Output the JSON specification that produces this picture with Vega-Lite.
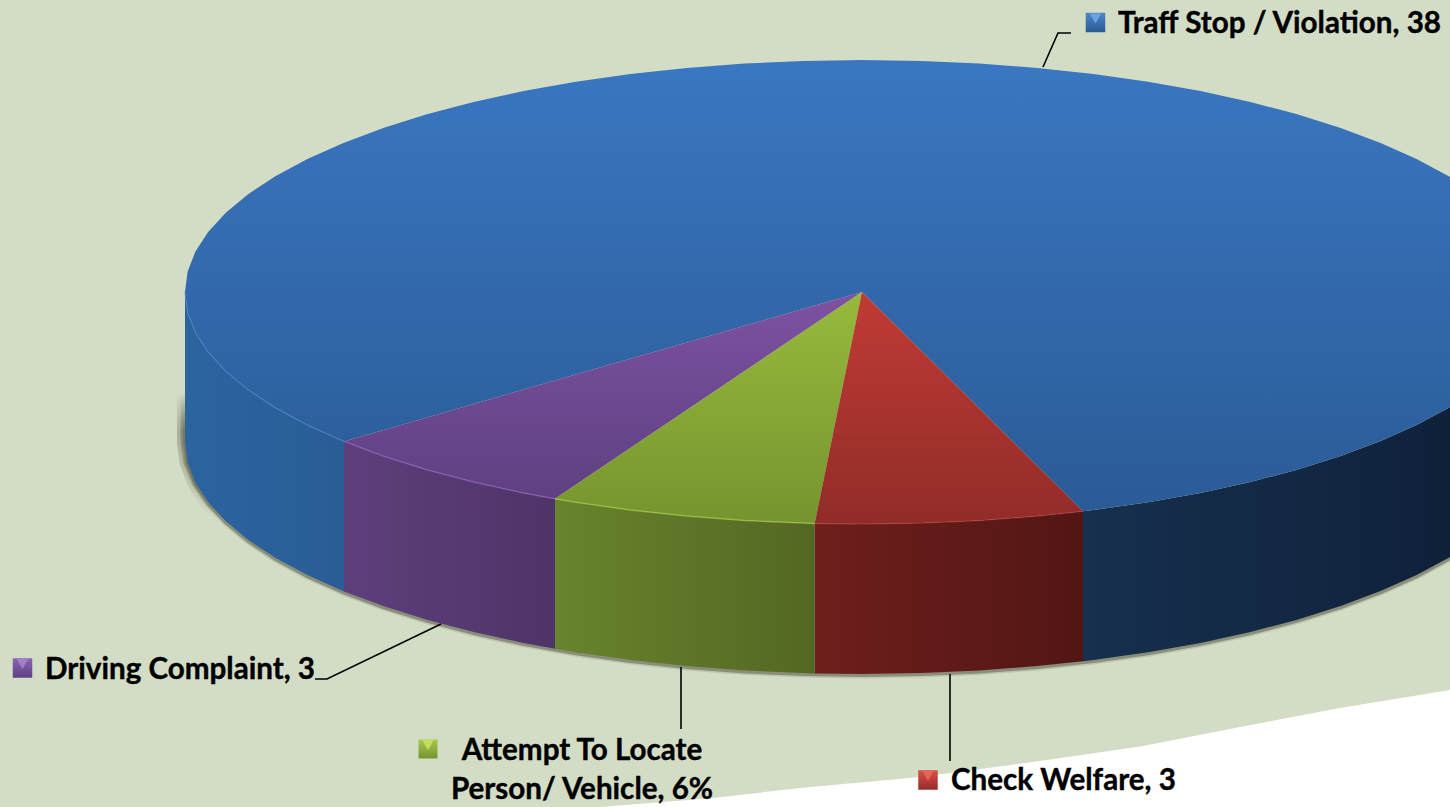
{
"$schema":"https://vega.github.io/schema/vega-lite/v6.json",
"width":1450,"height":807,"autosize":{"type":"fit","contains":"padding"},"padding":0,
"background":"#d3dcc5",
"config":{"view":{"stroke":null}},
"datasets":{
"whiteCorner":[{"x":1450,"y":690},{"x":1340,"y":708},{"x":1240,"y":727},{"x":1143,"y":746},{"x":1040,"y":761},{"x":920,"y":777},{"x":800,"y":788},{"x":713,"y":798},{"x":600,"y":807},{"x":1450,"y":807}],
"shadowLeft":[{"x":185,"y":392},{"x":185,"y":442},{"x":187.6,"y":462.2},{"x":195.3,"y":482.3},{"x":208.1,"y":502},{"x":225.8,"y":521.3}],
"shadow":[{"x":185,"y":395},{"x":185,"y":442},{"x":187.6,"y":462.2},{"x":195.3,"y":482.3},{"x":208.1,"y":502},{"x":225.8,"y":521.3},{"x":248.4,"y":540},{"x":275.7,"y":558},{"x":307.4,"y":575.1},{"x":344,"y":591.4},{"x":383.3,"y":606},{"x":426.8,"y":619.7},{"x":473.7,"y":632.1},{"x":523.5,"y":642.9},{"x":575.9,"y":652.3},{"x":630.5,"y":660},{"x":686.8,"y":666.1},{"x":744.5,"y":670.5},{"x":803,"y":673.1},{"x":862,"y":674},{"x":921,"y":673.1},{"x":979.5,"y":670.5},{"x":1037.2,"y":666.1},{"x":1093.5,"y":660},{"x":1148.1,"y":652.3},{"x":1200.5,"y":642.9},{"x":1250.3,"y":632.1},{"x":1297.2,"y":619.7},{"x":1340.7,"y":606},{"x":1380.6,"y":591.1},{"x":1416.6,"y":575.1},{"x":1448.3,"y":558},{"x":1475.6,"y":540}],
"wallBlueLeft":[{"x":344,"y":441.4,"edge":"top"},{"x":307.4,"y":425.1,"edge":"top"},{"x":275.7,"y":408,"edge":"top"},{"x":248.4,"y":390,"edge":"top"},{"x":225.8,"y":371.3,"edge":"top"},{"x":208.1,"y":352,"edge":"top"},{"x":195.3,"y":332.3,"edge":"top"},{"x":187.6,"y":312.2,"edge":"top"},{"x":185,"y":292,"edge":"top"},{"x":185,"y":442,"edge":"bottom"},{"x":187.6,"y":462.2,"edge":"bottom"},{"x":195.3,"y":482.3,"edge":"bottom"},{"x":208.1,"y":502,"edge":"bottom"},{"x":225.8,"y":521.3,"edge":"bottom"},{"x":248.4,"y":540,"edge":"bottom"},{"x":275.7,"y":558,"edge":"bottom"},{"x":307.4,"y":575.1,"edge":"bottom"},{"x":344,"y":591.4,"edge":"bottom"}],
"wallPurple":[{"x":555,"y":498.8,"edge":"top"},{"x":523.5,"y":492.9,"edge":"top"},{"x":473.7,"y":482.1,"edge":"top"},{"x":426.8,"y":469.7,"edge":"top"},{"x":383.3,"y":456,"edge":"top"},{"x":344,"y":441.4,"edge":"top"},{"x":344,"y":591.4,"edge":"bottom"},{"x":383.3,"y":606,"edge":"bottom"},{"x":426.8,"y":619.7,"edge":"bottom"},{"x":473.7,"y":632.1,"edge":"bottom"},{"x":523.5,"y":642.9,"edge":"bottom"},{"x":555,"y":648.8,"edge":"bottom"}],
"wallGreen":[{"x":814.7,"y":523.4,"edge":"top"},{"x":803,"y":523.1,"edge":"top"},{"x":744.5,"y":520.5,"edge":"top"},{"x":686.8,"y":516.1,"edge":"top"},{"x":630.5,"y":510,"edge":"top"},{"x":575.9,"y":502.3,"edge":"top"},{"x":555,"y":498.8,"edge":"top"},{"x":555,"y":648.8,"edge":"bottom"},{"x":575.9,"y":652.3,"edge":"bottom"},{"x":630.5,"y":660,"edge":"bottom"},{"x":686.8,"y":666.1,"edge":"bottom"},{"x":744.5,"y":670.5,"edge":"bottom"},{"x":803,"y":673.1,"edge":"bottom"},{"x":814.7,"y":673.4,"edge":"bottom"}],
"wallRed":[{"x":1083,"y":511.3,"edge":"top"},{"x":1037.2,"y":516.1,"edge":"top"},{"x":979.5,"y":520.5,"edge":"top"},{"x":921,"y":523.1,"edge":"top"},{"x":862,"y":524,"edge":"top"},{"x":814.7,"y":523.4,"edge":"top"},{"x":814.7,"y":673.4,"edge":"bottom"},{"x":862,"y":674,"edge":"bottom"},{"x":921,"y":673.1,"edge":"bottom"},{"x":979.5,"y":670.5,"edge":"bottom"},{"x":1037.2,"y":666.1,"edge":"bottom"},{"x":1083,"y":661.3,"edge":"bottom"}],
"wallBlueRight":[{"x":1475.6,"y":390,"edge":"top"},{"x":1448.3,"y":408,"edge":"top"},{"x":1416.6,"y":425.1,"edge":"top"},{"x":1380.6,"y":441.1,"edge":"top"},{"x":1340.7,"y":456,"edge":"top"},{"x":1297.2,"y":469.7,"edge":"top"},{"x":1250.3,"y":482.1,"edge":"top"},{"x":1200.5,"y":492.9,"edge":"top"},{"x":1148.1,"y":502.3,"edge":"top"},{"x":1093.5,"y":510,"edge":"top"},{"x":1083,"y":511.3,"edge":"top"},{"x":1083,"y":661.3,"edge":"bottom"},{"x":1093.5,"y":660,"edge":"bottom"},{"x":1148.1,"y":652.3,"edge":"bottom"},{"x":1200.5,"y":642.9,"edge":"bottom"},{"x":1250.3,"y":632.1,"edge":"bottom"},{"x":1297.2,"y":619.7,"edge":"bottom"},{"x":1340.7,"y":606,"edge":"bottom"},{"x":1380.6,"y":591.1,"edge":"bottom"},{"x":1416.6,"y":575.1,"edge":"bottom"},{"x":1448.3,"y":558,"edge":"bottom"},{"x":1475.6,"y":540,"edge":"bottom"}],
"topBlue":[{"x":862,"y":292},{"x":344,"y":441.4},{"x":307.4,"y":425.1},{"x":275.7,"y":408},{"x":248.4,"y":390},{"x":225.8,"y":371.3},{"x":208.1,"y":352},{"x":195.3,"y":332.3},{"x":187.6,"y":312.2},{"x":185,"y":292},{"x":187.6,"y":271.8},{"x":195.3,"y":251.7},{"x":208.1,"y":232},{"x":225.8,"y":212.7},{"x":248.4,"y":194},{"x":275.7,"y":176},{"x":307.4,"y":158.9},{"x":343.4,"y":142.9},{"x":383.3,"y":128},{"x":426.8,"y":114.3},{"x":473.7,"y":101.9},{"x":523.5,"y":91.1},{"x":575.9,"y":81.7},{"x":630.5,"y":74},{"x":686.8,"y":67.9},{"x":744.5,"y":63.5},{"x":803,"y":60.9},{"x":862,"y":60},{"x":921,"y":60.9},{"x":979.5,"y":63.5},{"x":1037.2,"y":67.9},{"x":1093.5,"y":74},{"x":1148.1,"y":81.7},{"x":1200.5,"y":91.1},{"x":1250.3,"y":101.9},{"x":1297.2,"y":114.3},{"x":1340.7,"y":128},{"x":1380.6,"y":142.9},{"x":1416.6,"y":158.9},{"x":1448.3,"y":176},{"x":1475.6,"y":194},{"x":1498.2,"y":212.7},{"x":1515.9,"y":232},{"x":1528.7,"y":251.7},{"x":1536.4,"y":271.8},{"x":1539,"y":292},{"x":1536.4,"y":312.2},{"x":1528.7,"y":332.3},{"x":1515.9,"y":352},{"x":1498.2,"y":371.3},{"x":1475.6,"y":390},{"x":1448.3,"y":408},{"x":1416.6,"y":425.1},{"x":1380.6,"y":441.1},{"x":1340.7,"y":456},{"x":1297.2,"y":469.7},{"x":1250.3,"y":482.1},{"x":1200.5,"y":492.9},{"x":1148.1,"y":502.3},{"x":1093.5,"y":510},{"x":1083,"y":511.3}],
"topRed":[{"x":862,"y":292},{"x":1083,"y":511.3},{"x":1037.2,"y":516.1},{"x":979.5,"y":520.5},{"x":921,"y":523.1},{"x":862,"y":524},{"x":814.7,"y":523.4}],
"topGreen":[{"x":862,"y":292},{"x":814.7,"y":523.4},{"x":803,"y":523.1},{"x":744.5,"y":520.5},{"x":686.8,"y":516.1},{"x":630.5,"y":510},{"x":575.9,"y":502.3},{"x":555,"y":498.8}],
"topPurple":[{"x":862,"y":292},{"x":555,"y":498.8},{"x":523.5,"y":492.9},{"x":473.7,"y":482.1},{"x":426.8,"y":469.7},{"x":383.3,"y":456},{"x":344,"y":441.4}],
"leaders":[{"id":"a","x":1043,"y":67},{"id":"a","x":1058,"y":33},{"id":"a","x":1071,"y":33},{"id":"b","x":315,"y":679},{"id":"b","x":327,"y":679},{"id":"b","x":441,"y":624},{"id":"c","x":681,"y":667},{"id":"c","x":681,"y":729},{"id":"d","x":950,"y":674},{"id":"d","x":950,"y":761}],
"labelsLeft":[{"label":"Traff Stop / Violation, 38","x":1118,"y":33},{"label":"Driving Complaint, 3","x":45,"y":679},{"label":"Check Welfare, 3","x":951,"y":790}],
"labelsCenter":[{"label":"Attempt To Locate","x":582,"y":760},{"label":"Person/ Vehicle, 6%","x":582,"y":799}],
"keyBlue":[{"x":1095.5,"y":22.5}],"keyPurple":[{"x":22.5,"y":668}],"keyGreen":[{"x":428,"y":749}],"keyRed":[{"x":928,"y":780}]
},
"encoding":{
"x":{"field":"x","type":"quantitative","scale":{"domain":[0,1450],"nice":false,"zero":false},"axis":null},
"y":{"field":"y","type":"quantitative","scale":{"domain":[807,0],"nice":false,"zero":false},"axis":null}
},
"layer":[
{"data":{"name":"whiteCorner"},"mark":{"type":"line","fill":"#ffffff","stroke":null,"clip":true},"encoding":{"order":{"value":null}}},
{"data":{"name":"shadowLeft"},"mark":{"type":"line","strokeWidth":16,"clip":true,"strokeCap":"butt","stroke":{"gradient":"linear","x1":0,"y1":0,"x2":0,"y2":1,"stops":[{"offset":0,"color":"rgba(60,60,40,0)"},{"offset":0.3,"color":"rgba(60,60,40,0.28)"},{"offset":0.6,"color":"rgba(60,60,40,0.18)"},{"offset":1,"color":"rgba(60,60,40,0)"}]}},"encoding":{"order":{"value":null}}},
{"data":{"name":"shadowLeft"},"mark":{"type":"line","strokeWidth":9,"clip":true,"strokeCap":"butt","stroke":{"gradient":"linear","x1":0,"y1":0,"x2":0,"y2":1,"stops":[{"offset":0,"color":"rgba(60,60,40,0)"},{"offset":0.3,"color":"rgba(60,60,40,0.3)"},{"offset":0.6,"color":"rgba(60,60,40,0.2)"},{"offset":1,"color":"rgba(60,60,40,0)"}]}},"encoding":{"order":{"value":null}}},
{"data":{"name":"shadow"},"mark":{"type":"line","strokeWidth":7,"clip":true,"yOffset":1,"stroke":{"gradient":"linear","x1":0,"y1":0,"x2":0,"y2":1,"stops":[{"offset":0,"color":"rgba(60,60,40,0)"},{"offset":0.3,"color":"rgba(60,60,40,0.14)"}]}},"encoding":{"order":{"value":null}}},
{"data":{"name":"shadow"},"mark":{"type":"line","strokeWidth":4,"clip":true,"yOffset":1,"stroke":{"gradient":"linear","x1":0,"y1":0,"x2":0,"y2":1,"stops":[{"offset":0,"color":"rgba(60,60,40,0)"},{"offset":0.3,"color":"rgba(60,60,40,0.4)"}]}},"encoding":{"order":{"value":null}}},
{"data":{"name":"wallBlueLeft"},"mark":{"type":"line","stroke":null,"clip":true,"fill":{"gradient":"linear","x1":0,"y1":0,"x2":1,"y2":0,"stops":[{"offset":0,"color":"#2c649f"},{"offset":1,"color":"#2a5d96"}]}},"encoding":{"order":{"value":null}}},
{"data":{"name":"wallPurple"},"mark":{"type":"line","stroke":null,"clip":true,"fill":{"gradient":"linear","x1":0,"y1":0,"x2":1,"y2":0,"stops":[{"offset":0,"color":"#5e3f7c"},{"offset":1,"color":"#4e3468"}]}},"encoding":{"order":{"value":null}}},
{"data":{"name":"wallGreen"},"mark":{"type":"line","stroke":null,"clip":true,"fill":{"gradient":"linear","x1":0,"y1":0,"x2":1,"y2":0,"stops":[{"offset":0,"color":"#68842c"},{"offset":1,"color":"#536723"}]}},"encoding":{"order":{"value":null}}},
{"data":{"name":"wallRed"},"mark":{"type":"line","stroke":null,"clip":true,"fill":{"gradient":"linear","x1":0,"y1":0,"x2":1,"y2":0,"stops":[{"offset":0,"color":"#6e1f1c"},{"offset":1,"color":"#521614"}]}},"encoding":{"order":{"value":null}}},
{"data":{"name":"wallBlueRight"},"mark":{"type":"line","stroke":null,"clip":true,"fill":{"gradient":"linear","x1":0,"y1":0,"x2":1,"y2":0,"stops":[{"offset":0,"color":"#16304f"},{"offset":1,"color":"#0f2038"}]}},"encoding":{"order":{"value":null}}},
{"data":{"name":"topBlue"},"mark":{"type":"line","stroke":null,"clip":true,"fill":{"gradient":"linear","x1":0,"y1":0,"x2":0,"y2":1,"stops":[{"offset":0,"color":"#3a77c2"},{"offset":1,"color":"#2b5b96"}]}},"encoding":{"order":{"value":null}}},
{"data":{"name":"topPurple"},"mark":{"type":"line","stroke":null,"clip":true,"fill":{"gradient":"linear","x1":0,"y1":0,"x2":0,"y2":1,"stops":[{"offset":0,"color":"#7d52a2"},{"offset":1,"color":"#5f4081"}]}},"encoding":{"order":{"value":null}}},
{"data":{"name":"topGreen"},"mark":{"type":"line","stroke":null,"clip":true,"fill":{"gradient":"linear","x1":0,"y1":0,"x2":0,"y2":1,"stops":[{"offset":0,"color":"#97ba3c"},{"offset":1,"color":"#76942f"}]}},"encoding":{"order":{"value":null}}},
{"data":{"name":"topRed"},"mark":{"type":"line","stroke":null,"clip":true,"fill":{"gradient":"linear","x1":0,"y1":0,"x2":0,"y2":1,"stops":[{"offset":0,"color":"#c13b34"},{"offset":1,"color":"#912c29"}]}},"encoding":{"order":{"value":null}}},
{"data":{"name":"wallBlueLeft"},"transform":[{"filter":"datum.edge==='top'"}],"mark":{"type":"line","stroke":"#4a88d0","strokeWidth":1.5,"opacity":0.5,"clip":true},"encoding":{"order":{"value":null}}},
{"data":{"name":"wallPurple"},"transform":[{"filter":"datum.edge==='top'"}],"mark":{"type":"line","stroke":"#8f5fb5","strokeWidth":1.5,"opacity":0.7,"clip":true},"encoding":{"order":{"value":null}}},
{"data":{"name":"wallGreen"},"transform":[{"filter":"datum.edge==='top'"}],"mark":{"type":"line","stroke":"#a3c84a","strokeWidth":1.5,"opacity":0.7,"clip":true},"encoding":{"order":{"value":null}}},
{"data":{"name":"wallRed"},"transform":[{"filter":"datum.edge==='top'"}],"mark":{"type":"line","stroke":"#b8403a","strokeWidth":1.5,"opacity":0.5,"clip":true},"encoding":{"order":{"value":null}}},
{"data":{"name":"leaders"},"mark":{"type":"line","stroke":"#000000","strokeWidth":1.6},"encoding":{"detail":{"field":"id"},"order":{"value":null}}},
{"data":{"name":"keyBlue"},"mark":{"type":"point","shape":"square","size":380,"filled":true,"opacity":1,"fill":{"gradient":"linear","x1":0,"y1":0,"x2":0,"y2":1,"stops":[{"offset":0,"color":"#4d87c8"},{"offset":1,"color":"#2a5a92"}]}}},
{"data":{"name":"keyPurple"},"mark":{"type":"point","shape":"square","size":380,"filled":true,"opacity":1,"fill":{"gradient":"linear","x1":0,"y1":0,"x2":0,"y2":1,"stops":[{"offset":0,"color":"#8a65b5"},{"offset":1,"color":"#5f4081"}]}}},
{"data":{"name":"keyGreen"},"mark":{"type":"point","shape":"square","size":360,"filled":true,"opacity":1,"fill":{"gradient":"linear","x1":0,"y1":0,"x2":0,"y2":1,"stops":[{"offset":0,"color":"#a6c84c"},{"offset":1,"color":"#76942f"}]}}},
{"data":{"name":"keyRed"},"mark":{"type":"point","shape":"square","size":380,"filled":true,"opacity":1,"fill":{"gradient":"linear","x1":0,"y1":0,"x2":0,"y2":1,"stops":[{"offset":0,"color":"#d9504a"},{"offset":1,"color":"#962d2a"}]}}},
{"data":{"name":"keyBlue"},"mark":{"type":"point","shape":"triangle-down","size":130,"filled":true,"opacity":1,"fill":"#6ba3de","yOffset":-4}},
{"data":{"name":"keyPurple"},"mark":{"type":"point","shape":"triangle-down","size":130,"filled":true,"opacity":1,"fill":"#a081c8","yOffset":-4}},
{"data":{"name":"keyGreen"},"mark":{"type":"point","shape":"triangle-down","size":130,"filled":true,"opacity":1,"fill":"#c6de60","yOffset":-4}},
{"data":{"name":"keyRed"},"mark":{"type":"point","shape":"triangle-down","size":130,"filled":true,"opacity":1,"fill":"#e8625a","yOffset":-4}},
{"data":{"name":"labelsLeft"},"mark":{"type":"text","align":"left","baseline":"alphabetic","font":"Lato","fontWeight":"bold","fontSize":29.6,"fill":"#000000","stroke":"#000000","strokeWidth":0.4},"encoding":{"text":{"field":"label"}}},
{"data":{"name":"labelsCenter"},"mark":{"type":"text","align":"center","baseline":"alphabetic","font":"Lato","fontWeight":"bold","fontSize":29.6,"fill":"#000000","stroke":"#000000","strokeWidth":0.4},"encoding":{"text":{"field":"label"}}}
]
}
